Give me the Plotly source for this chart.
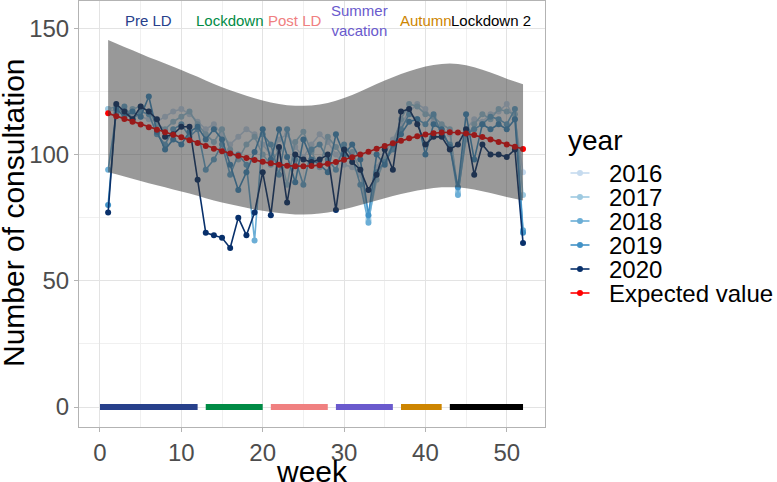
import plotly.graph_objects as go

# weekly consultations
weeks = list(range(1, 53))

y2016 = [118, 117, 118, 116, 115, 114, 113, 115, 117, 118, 116, 113,
         110, 112, 108, 104, 107, 110, 108, 104,
         100, 106, 108, 103, 99, 104, 108, 105, 100, 96,
         95, 92, 75, 95, 100, 106, 112, 117, 120, 118, 113, 110,
         108, 86, 110, 114, 113, 116, 117, 120, 114, 93]
y2017 = [118, 119, 116, 118, 119, 117, 112, 110, 113, 115, 117, 112,
         108, 105, 110, 102, 98, 104, 107, 100,
         96, 102, 88, 105, 109, 101, 95, 107, 103, 98,
         101, 94, 74, 90, 98, 104, 114, 120, 119, 116, 115, 112,
         110, 85, 106, 112, 116, 114, 118, 117, 116, 84]
y2018 = [94, 116, 119, 114, 117, 116, 108, 104, 110, 112, 107, 110,
         94, 98, 104, 92, 100, 96, 66, 108,
         104, 92, 110, 98, 88, 102, 104, 98, 94, 104,
         99, 88, 73, 93, 97, 102, 110, 116, 114, 112, 116, 108,
         104, 84, 108, 110, 112, 115, 114, 112, 118, 70]
y2019 = [80, 118, 115, 117, 115, 123, 109, 102, 106, 104, 109, 111,
         106, 110, 106, 96, 86, 93, 101, 110,
         98, 110, 99, 89, 106, 98, 96, 93, 108, 100,
         104, 98, 76, 100, 96, 104, 108, 113, 114, 100, 112, 110,
         103, 87, 116, 98, 112, 110, 112, 110, 114, 69]
y2020 = [77, 120, 117, 114, 119, 117, 114, 107, 108, 111, 111, 90,
         69, 68, 67, 63, 75, 68, 77, 93,
         76, 103, 81, 100, 98, 97, 98, 100, 78, 102,
         97, 94, 86, 92, 102, 94, 117, 118, 112, 104, 107, 107,
         102, 104, 110, 92, 104, 100, 100, 99, 102, 65]

expected = [116.3, 115.2, 114.1, 113.0, 111.9, 110.8, 109.8, 108.8, 107.8, 106.8,
            105.7, 104.6, 103.4, 102.3, 101.3, 100.4, 99.5, 98.6, 97.8, 97.1,
            96.5, 96.0, 95.6, 95.4, 95.4, 95.5, 95.8, 96.3, 97.0, 97.9,
            98.9, 100.0, 101.1, 102.3, 103.4, 104.5, 105.5, 106.4, 107.2, 107.9,
            108.4, 108.7, 108.8, 108.7, 108.3, 107.7, 106.9, 106.0, 105.0, 104.0,
            103.1, 102.2]
upper = [145.4, 144.0, 142.6, 141.3, 139.9, 138.5, 137.3, 136.0, 134.8, 133.5,
         132.1, 130.8, 129.3, 127.9, 126.6, 125.5, 124.4, 123.3, 122.3, 121.4,
         120.6, 120.0, 119.5, 119.3, 119.3, 119.4, 119.8, 120.4, 121.3, 122.4,
         123.6, 125.0, 126.4, 127.9, 129.3, 130.6, 131.9, 133.0, 134.0, 134.9,
         135.5, 135.9, 136.0, 135.9, 135.4, 134.6, 133.6, 132.5, 131.3, 130.0,
         128.9, 127.8]
lower = [93.0, 92.2, 91.3, 90.4, 89.5, 88.6, 87.8, 87.0, 86.2, 85.4,
         84.6, 83.7, 82.7, 81.8, 81.0, 80.3, 79.6, 78.9, 78.2, 77.7,
         77.2, 76.8, 76.5, 76.3, 76.3, 76.4, 76.6, 77.0, 77.6, 78.3,
         79.1, 80.0, 80.9, 81.8, 82.7, 83.6, 84.4, 85.1, 85.8, 86.3,
         86.7, 87.0, 87.0, 87.0, 86.6, 86.2, 85.5, 84.8, 84.0, 83.2,
         82.5, 81.8]

# periods of the year
period_names = ["Pre LD", "Lockdown", "Post LD", "Summer<br>vacation", "Autumn", "Lockdown 2"]
period_start = [0, 13, 21, 29, 37, 43]
period_end = [12, 20, 28, 36, 42, 52]

years = ["2016", "2017", "2018", "2019", "2020"]
year_colors = ["#c6dbef", "#9ecae1", "#6baed6", "#4292c6", "#08306b"]
period_colors = ["#27408B", "#008B45", "#F08080", "#6A5ACD", "#CD8500", "#000000"]
label_x = [6, 16, 24, 31.9, 40.1, 48.1]

FONT = "Liberation Sans, Arial, sans-serif"
L, R, T, B = 79, 545, 1, 427

fig = go.Figure()

for name, vals, col in zip(years, [y2016, y2017, y2018, y2019, y2020], year_colors):
    fig.add_trace(go.Scatter(x=weeks, y=vals, mode="lines+markers", name=name,
                             line=dict(color=col, width=1.6),
                             marker=dict(color=col, size=6), showlegend=False))

fig.add_trace(go.Scatter(x=weeks, y=expected, mode="lines+markers", name="Expected value",
                         line=dict(color="#ff0000", width=1.6),
                         marker=dict(color="#ff0000", size=6), showlegend=False))

# ribbon drawn on top, semi transparent
fig.add_trace(go.Scatter(x=weeks + weeks[::-1], y=upper + lower[::-1],
                         fill="toself", mode="none",
                         fillcolor="rgba(51,51,51,0.5)",
                         hoverinfo="skip", showlegend=False))

for s, e, col in zip(period_start, period_end, period_colors):
    fig.add_trace(go.Scatter(x=[s, e], y=[0, 0], mode="lines",
                             line=dict(color=col, width=6),
                             hoverinfo="skip", showlegend=False))

for name, xx, col in zip(period_names, label_x, period_colors):
    fig.add_annotation(x=xx, y=153, xref="x", yref="y", text=name, showarrow=False,
                       font=dict(family=FONT, size=15, color=col),
                       xanchor="center", yanchor="middle")


# pixel -> paper helpers for the hand made legend and titles
def px_x(p):
    return (p - L) / (R - L)


def px_y(p):
    return (B - p) / (B - T)


fig.add_annotation(x=px_x(312), y=px_y(471), xref="paper", yref="paper", text="week",
                   showarrow=False, xanchor="center", yanchor="middle",
                   font=dict(family=FONT, size=30, color="black"))
fig.add_annotation(x=px_x(14), y=px_y(213), xref="paper", yref="paper",
                   text="Number of consultation", textangle=-90,
                   showarrow=False, xanchor="center", yanchor="middle",
                   font=dict(family=FONT, size=30, color="black"))

fig.add_annotation(x=px_x(566), y=px_y(140), xref="paper", yref="paper", text="year",
                   showarrow=False, xanchor="left", yanchor="middle",
                   font=dict(family=FONT, size=28, color="black"))

leg_names = years + ["Expected value"]
leg_colors = year_colors + ["#ff0000"]
for i, (name, col) in enumerate(zip(leg_names, leg_colors)):
    yy = 173 + 24 * i
    fig.add_shape(type="line", xref="paper", yref="paper",
                  x0=px_x(570.5), x1=px_x(589.5), y0=px_y(yy), y1=px_y(yy),
                  line=dict(color=col, width=1.6))
    fig.add_shape(type="circle", xref="paper", yref="paper",
                  xsizemode="pixel", ysizemode="pixel",
                  xanchor=px_x(580), yanchor=px_y(yy),
                  x0=-3, x1=3, y0=-3, y1=3,
                  fillcolor=col, line=dict(width=0))
    fig.add_annotation(x=px_x(607), y=px_y(yy), xref="paper", yref="paper", text=name,
                       showarrow=False, xanchor="left", yanchor="middle",
                       font=dict(family=FONT, size=24, color="black"))

axis_common = dict(showline=True, mirror=True, linecolor="#b3b3b3", linewidth=1,
                   ticks="outside", ticklen=4, tickcolor="#b3b3b3",
                   gridcolor="#e3e3e3", gridwidth=1, zeroline=False,
                   automargin=False,
                   tickfont=dict(family=FONT, size=24, color="#4d4d4d"))

fig.update_layout(
    width=777, height=482,
    margin=dict(l=L, r=777 - R, t=T, b=482 - B, autoexpand=False),
    paper_bgcolor="white", plot_bgcolor="white",
    font=dict(family=FONT),
    xaxis=dict(range=[-2.58, 54.7], tickvals=[0, 10, 20, 30, 40, 50],
               minor=dict(tickvals=[5, 15, 25, 35, 45, 55], showgrid=True,
                          gridcolor="#f0f0f0", ticks=""),
               **axis_common),
    yaxis=dict(range=[-7.9, 160.8], tickvals=[0, 50, 100, 150],
               minor=dict(tickvals=[25, 75, 125], showgrid=True,
                          gridcolor="#f0f0f0", ticks=""),
               **axis_common),
    showlegend=False,
)

# the page body has a default 8px margin; drop it so the figure sits at 0,0
fig.write_html("out.html", config={"displayModeBar": False},
               post_script="document.body.style.margin='0';")
